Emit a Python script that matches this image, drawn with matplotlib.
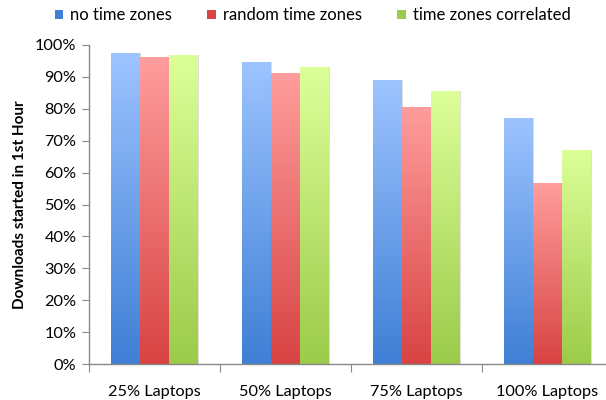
import numpy as np
import matplotlib.pyplot as plt
from matplotlib.colors import LinearSegmentedColormap
from matplotlib.patches import Patch

plt.rcParams['font.family'] = ['Lato', 'DejaVu Sans']

categories = ["25% Laptops", "50% Laptops", "75% Laptops", "100% Laptops"]
series = ["no time zones", "random time zones", "time zones correlated"]
no_tz = [0.974, 0.947, 0.890, 0.772]
random_tz = [0.961, 0.911, 0.806, 0.566]
correlated_tz = [0.970, 0.930, 0.856, 0.672]

# (top colour, bottom colour) for each series
colours = [("#9dc4ff", "#3f7fd5"), ("#ff9d9d", "#d84343"), ("#ddff99", "#9ccb4a")]

fig = plt.figure(figsize=(6.06, 4.0), dpi=100)
ax = fig.add_axes([89 / 606, 36 / 400, 524 / 606, 319 / 400])

x = np.arange(len(categories))
w = 0.221
grad = np.linspace(0, 1, 256).reshape(-1, 1)

for i, (vals, (top, bottom)) in enumerate(zip([no_tz, random_tz, correlated_tz], colours)):
    cmap = LinearSegmentedColormap.from_list("g%d" % i, [bottom, top])
    bars = ax.bar(x + (i - 1) * w, vals, w, color="none", edgecolor="none")
    for b in bars:
        x0, y0 = b.get_x(), b.get_y()
        x1, y1 = x0 + b.get_width(), y0 + b.get_height()
        # faint shadow on the right edge
        ax.bar(x1 + 0.004, y1, 0.008, align="center", color="#dddddd", zorder=1)
        im = ax.imshow(grad, extent=[x0, x1, y0, y1], origin="lower",
                       aspect="auto", cmap=cmap, zorder=2)
        im.set_clip_path(b)

ax.set_xlim(-0.5, 3.5)
ax.set_ylim(0, 1)

ax.set_yticks(np.arange(0, 1.01, 0.1))
ax.set_yticklabels(["%d%%" % v for v in range(0, 101, 10)], fontsize=11.7)
ax.set_xticks(np.arange(-0.5, 4, 1))
ax.set_xticklabels([])
ax.set_xticks(x, minor=True)
ax.set_xticklabels(categories, minor=True, fontsize=11.7)
ax.tick_params(axis="x", which="major", length=6, color="#888888", direction="out")
ax.tick_params(axis="x", which="minor", length=0, pad=15)
ax.tick_params(axis="y", length=5, color="#888888", direction="out", pad=4)

for s in ["top", "right"]:
    ax.spines[s].set_visible(False)
for s in ["left", "bottom"]:
    ax.spines[s].set_color("#888888")
    ax.spines[s].set_linewidth(1.0)

ax.set_ylabel("Downloads started in 1st Hour", fontsize=11, fontweight="bold", labelpad=6)

handles = [Patch(facecolor=c[1], edgecolor="none") for c in colours]
fig.legend(handles, series, loc="center", bbox_to_anchor=(0.516, 0.962), ncol=3,
           frameon=False, fontsize=12, handlelength=0.5, handleheight=0.5,
           handletextpad=0.45, columnspacing=2.1)

fig.savefig("out.png", dpi=100)
